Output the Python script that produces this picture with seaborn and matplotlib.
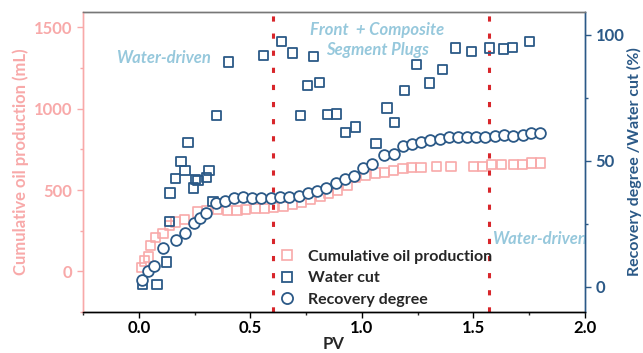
import matplotlib
matplotlib.use("Agg")
import matplotlib.pyplot as plt
import seaborn as sns
import pandas as pd
from matplotlib.lines import Line2D
from matplotlib.ticker import MultipleLocator

# ---- data ----
oil_pv = [0.013, 0.027, 0.042, 0.054, 0.076, 0.109, 0.136, 0.166, 0.206, 0.263, 0.304,
          0.352, 0.397, 0.44, 0.479, 0.523, 0.564, 0.605, 0.647, 0.688, 0.729, 0.77,
          0.814, 0.851, 0.892, 0.934, 0.971, 1.016, 1.06, 1.10, 1.142, 1.184, 1.224,
          1.265, 1.333, 1.399, 1.50, 1.542, 1.582, 1.627, 1.679, 1.72, 1.76, 1.80]
oil_ml = [26, 63, 88, 160, 207, 232, 283, 303, 318, 365, 371,
          380, 375, 375, 380, 385, 385, 395, 401, 410, 426, 441,
          461, 478, 498, 529, 576, 590, 605, 610, 621, 631, 641,
          641, 646, 646, 646, 647, 656, 656, 656, 656, 666, 666]

wc_pv = [0.015, 0.082, 0.124, 0.137, 0.140, 0.164, 0.189, 0.207, 0.221, 0.245, 0.255,
         0.265, 0.303, 0.315, 0.333, 0.349, 0.403, 0.558, 0.638, 0.689, 0.725, 0.755,
         0.784, 0.81, 0.847, 0.885, 0.928, 0.971, 1.063, 1.113, 1.147, 1.191, 1.244,
         1.302, 1.36, 1.421, 1.493, 1.572, 1.634, 1.676, 1.751]
wc_pct = [0.8, 0.8, 9.8, 25.9, 37.2, 42.9, 49.7, 46.0, 57.3, 39.2, 42.7,
          42.2, 43.5, 46.2, 33.8, 68.0, 89.2, 91.8, 97.3, 92.7, 68.0, 79.9,
          91.4, 81.1, 68.3, 68.5, 61.2, 63.4, 56.7, 70.9, 65.2, 77.9, 88.1,
          80.8, 86.1, 94.7, 93.4, 94.7, 94.3, 95.0, 97.3]

rd_pv = [0.013, 0.042, 0.07, 0.11, 0.166, 0.207, 0.247, 0.273, 0.30, 0.345, 0.386,
         0.427, 0.467, 0.509, 0.549, 0.591, 0.632, 0.674, 0.716, 0.757, 0.799, 0.841,
         0.883, 0.923, 0.963, 1.005, 1.046, 1.098, 1.142, 1.184, 1.225, 1.266, 1.306,
         1.348, 1.389, 1.43, 1.47, 1.512, 1.554, 1.596, 1.638, 1.679, 1.72, 1.76, 1.80]
rd_pct = [2.8, 6.1, 8.3, 15.2, 18.6, 21.3, 25.3, 27.3, 29.2, 33.2, 34.2,
          35.3, 35.5, 35.4, 35.2, 35.4, 35.8, 35.8, 36.1, 37.2, 37.8, 39.2,
          41.2, 42.7, 43.8, 47.3, 48.8, 52.4, 52.7, 55.7, 56.6, 57.3, 58.1,
          58.6, 59.3, 59.4, 59.6, 59.6, 59.6, 60.0, 60.3, 60.0, 60.3, 61.2, 61.2]

stage_bounds = [0.60, 1.57]
x_ticks = [0.0, 0.5, 1.0, 1.5, 2.0]
left_ticks = [0, 500, 1000, 1500]
right_ticks = [0, 50, 100]
legend_labels = ["Cumulative oil production", "Water cut", "Recovery degree"]

PINK = "#F8A9A9"
BLUE = "#2B5987"
ANNO = "#96C8DC"
RED = "#D8262B"

sns.set_style("ticks")
plt.rcParams['font.family'] = ['Lato', 'DejaVu Sans']
plt.rcParams['font.weight'] = 'bold'

fig = plt.figure(figsize=(6.43, 3.53), dpi=100)
ax = fig.add_axes([83/643, 1-312/353, (585-83)/643, (312-12)/353])
ax2 = ax.twinx()

df_oil = pd.DataFrame({"PV": oil_pv, "val": oil_ml})
df_wc = pd.DataFrame({"PV": wc_pv, "val": wc_pct})
df_rd = pd.DataFrame({"PV": rd_pv, "val": rd_pct})

sns.scatterplot(data=df_oil, x="PV", y="val", ax=ax, marker="s", s=44,
                facecolor="none", edgecolor=PINK, linewidth=1.2, zorder=3)
sns.scatterplot(data=df_wc, x="PV", y="val", ax=ax2, marker="s", s=44,
                facecolor="none", edgecolor=BLUE, linewidth=1.3, zorder=3)
sns.scatterplot(data=df_rd, x="PV", y="val", ax=ax2, marker="o", s=60,
                facecolor="white", edgecolor=BLUE, linewidth=1.3, zorder=4)

for xb in stage_bounds:
    ax.axvline(xb, color=RED, lw=2.2, dashes=(1.7, 3.9), zorder=1)

ax.set_xlim(-0.25, 2.0)
ax.set_ylim(-250, 1595)
ax2.set_ylim(-10, 109)

ax.set_xticks(x_ticks)
ax.set_xticklabels([f"{v:.1f}" for v in x_ticks])
ax.xaxis.set_minor_locator(MultipleLocator(0.25))
ax.set_yticks(left_ticks)
ax.yaxis.set_minor_locator(MultipleLocator(250))
ax2.set_yticks(right_ticks)
ax2.yaxis.set_minor_locator(MultipleLocator(25))

ax.set_xlabel("PV", fontsize=12, fontweight="bold", labelpad=0)
ax.set_ylabel("Cumulative oil production (mL)", fontsize=12, fontweight="bold", color=PINK, labelpad=4)
ax2.set_ylabel("Recovery degree /Water cut (%)", fontsize=11.5, fontweight="bold", color=BLUE, labelpad=2)

ax.tick_params(axis="x", labelsize=12, colors="black", direction="out", length=4, width=1, pad=2)
ax.tick_params(axis="x", which="minor", length=2.5, width=1)
ax.tick_params(axis="y", which="both", colors=PINK, labelcolor=PINK, labelsize=12, width=1)
ax.tick_params(axis="y", which="major", length=4)
ax.tick_params(axis="y", which="minor", length=2.5)
ax2.tick_params(axis="y", which="both", colors=BLUE, labelcolor=BLUE, labelsize=12, width=1)
ax2.tick_params(axis="y", which="major", length=4)
ax2.tick_params(axis="y", which="minor", length=2.5)
for lab in ax.get_xticklabels() + ax.get_yticklabels() + ax2.get_yticklabels():
    lab.set_fontweight("bold")

for a in (ax, ax2):
    a.spines["left"].set_color(PINK)
    a.spines["right"].set_color(BLUE)
    a.spines["top"].set_color("#777777")
    a.spines["bottom"].set_color("black")
    for s in a.spines.values():
        s.set_linewidth(1.0)
        s.set_visible(True)
ax2.set_xlabel("")
ax.patch.set_visible(False)

anno_kw = dict(color=ANNO, fontsize=12, fontweight="bold", fontstyle="italic")
ax.text(0.112, 1310, "Water-driven", ha="center", va="center", **anno_kw)
ax.text(1.07, 1423, "Front  + Composite\nSegment Plugs", ha="center", va="center",
        linespacing=1.3, **anno_kw)
ax.text(1.584, 197, "Water-driven", ha="left", va="center", **anno_kw)

handles = [
    Line2D([], [], ls="none", marker="s", ms=7, mfc="none", mec=PINK, mew=1.2),
    Line2D([], [], ls="none", marker="s", ms=7, mfc="none", mec=BLUE, mew=1.3),
    Line2D([], [], ls="none", marker="o", ms=8, mfc="none", mec=BLUE, mew=1.3),
]
leg = ax2.legend(handles, legend_labels, loc="lower left", bbox_to_anchor=(0.346, -0.03),
                 frameon=False, handletextpad=0.3, labelspacing=0.45,
                 prop={"family": "Lato", "weight": "bold", "size": 11.5})

fig.savefig("out.png", dpi=100)
